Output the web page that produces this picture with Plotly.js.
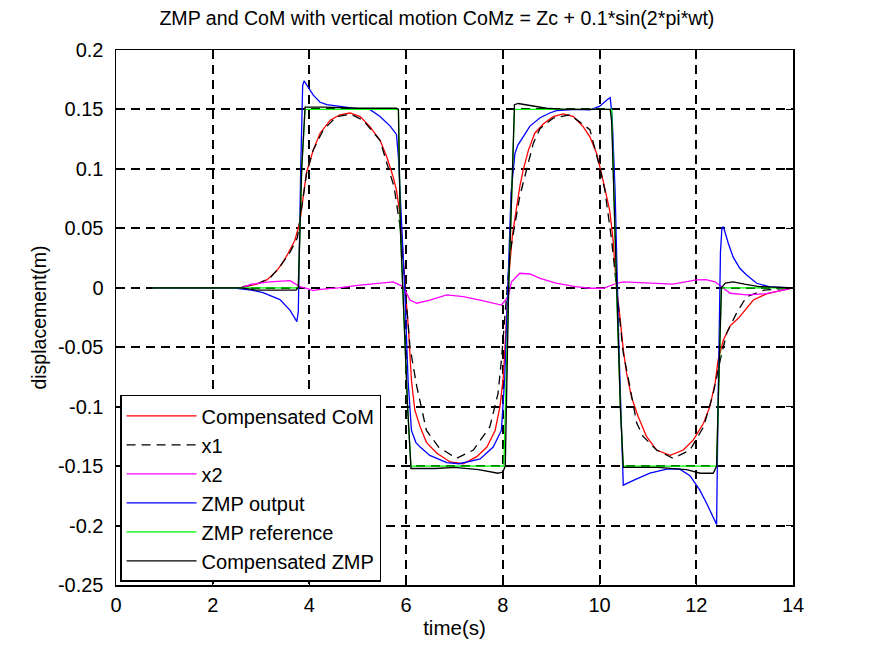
<!DOCTYPE html>
<html>
<head>
<meta charset="utf-8">
<script src="https://cdn.plot.ly/plotly-3.0.1.min.js"></script>
<style>html,body{margin:0;padding:0;background:#fff;}#chart{width:874px;height:655px;}</style>
</head>
<body>
<div id="chart"></div>
<script>
// Compensated CoM (red)
const comT = [0.76, 2.56, 2.91, 3.12, 3.32, 3.46, 3.56, 3.7, 3.8, 3.87, 3.94, 4.08, 4.22, 4.43, 4.63, 4.84, 5.05, 5.25, 5.46, 5.6, 5.73, 5.8, 5.88, 5.98, 6.05, 6.11, 6.18, 6.29, 6.42, 6.63, 6.91, 7.18, 7.46, 7.67, 7.84, 7.94, 8.01, 8.06, 8.11, 8.2, 8.28, 8.35, 8.42, 8.53, 8.66, 8.84, 9.04, 9.25, 9.46, 9.66, 9.8, 9.94, 10.04, 10.15, 10.21, 10.28, 10.35, 10.42, 10.49, 10.56, 10.66, 10.8, 10.97, 11.18, 11.46, 11.73, 11.94, 12.15, 12.28, 12.39, 12.45, 12.56, 12.7, 12.87, 13.18, 13.45, 13.8, 14];
const comY = [0, 0, 0.003, 0.0066, 0.014, 0.022, 0.029, 0.04, 0.055, 0.075, 0.097, 0.116, 0.130, 0.141, 0.1455, 0.147, 0.144, 0.1356, 0.124, 0.110, 0.0935, 0.082, 0.06, 0, -0.0355, -0.078, -0.103, -0.117, -0.13, -0.139, -0.1465, -0.148, -0.142, -0.134, -0.12, -0.1, -0.075, -0.038, 0.004, 0.045, 0.068, 0.085, 0.099, 0.116, 0.130, 0.138, 0.144, 0.1463, 0.144, 0.1356, 0.127, 0.113, 0.096, 0.077, 0.065, 0.04, 0, -0.024, -0.052, -0.072, -0.092, -0.1085, -0.125, -0.1365, -0.141, -0.1365, -0.128, -0.114, -0.1, -0.08, -0.061, -0.044, -0.032, -0.0257, -0.0103, -0.0052, -0.002, 0];

// x1 (black dashed)
const x1T = [0.76, 2.5, 2.9, 3.18, 3.39, 3.6, 3.75, 3.85, 3.94, 4.08, 4.29, 4.56, 4.85, 5.11, 5.46, 5.6, 5.75, 5.88, 5.98, 6.08, 6.22, 6.42, 6.67, 7.04, 7.39, 7.73, 7.9, 7.97, 8.05, 8.15, 8.35, 8.56, 8.63, 8.77, 9.04, 9.39, 9.8, 10.0, 10.11, 10.25, 10.35, 10.49, 10.6, 10.77, 10.9, 11.18, 11.52, 11.87, 12.15, 12.35, 12.5, 12.63, 12.83, 13.04, 13.4, 14];
const x1Y = [0, 0, 0.003, 0.008, 0.0178, 0.03, 0.042, 0.07, 0.096, 0.116, 0.133, 0.144, 0.146, 0.141, 0.124, 0.105, 0.085, 0.05, 0.0, -0.05, -0.083, -0.12, -0.134, -0.1435, -0.1365, -0.117, -0.089, -0.061, -0.02, 0.03, 0.077, 0.112, 0.1216, 0.134, 0.1427, 0.1455, 0.133, 0.102, 0.082, 0.04, 0, -0.055, -0.0776, -0.114, -0.125, -0.1365, -0.1435, -0.1365, -0.117, -0.089, -0.06, -0.038, -0.0215, -0.0075, -0.002, 0];

// x2 (magenta)
const x2T = [0.76, 2.6, 2.8, 3.18, 3.6, 3.8, 3.94, 4.08, 4.22, 4.6, 5.0, 5.46, 5.73, 5.94, 6.08, 6.22, 6.49, 6.84, 7.18, 7.53, 7.8, 7.97, 8.11, 8.18, 8.35, 8.56, 8.77, 9.1, 9.5, 9.8, 10.08, 10.35, 10.49, 11.18, 11.52, 12.0, 12.2, 12.39, 12.53, 12.7, 13.04, 13.45, 13.8, 14];
const x2Y = [0, 0, 0.003, 0.005, 0.006, 0.001, -0.0005, -0.0024, -0.0013, 0.0, 0.002, 0.0038, 0.005, 0.001, -0.0103, -0.013, -0.0103, -0.006, -0.0075, -0.0103, -0.013, -0.0145, -0.0075, 0.005, 0.0122, 0.0116, 0.008, 0.004, 0.001, -0.0004, -0.0004, 0.0038, 0.005, 0.0038, 0.003, 0.0066, 0.0068, 0.005, 0.0004, -0.0046, -0.006, -0.005, -0.002, 0];

// ZMP output (blue)
const zmpOutT = [0.76, 2.4, 2.8, 3.04, 3.39, 3.6, 3.74, 3.77, 3.82, 3.86, 3.89, 3.95, 4.01, 4.08, 4.22, 4.36, 4.63, 4.9, 5.25, 5.46, 5.67, 5.8, 5.84, 5.9, 5.97, 6.04, 6.11, 6.2, 6.29, 6.49, 6.84, 7.1, 7.53, 7.8, 7.97, 8.04, 8.1, 8.17, 8.25, 8.31, 8.42, 8.56, 8.77, 8.97, 9.11, 9.5, 9.8, 10.0, 10.15, 10.22, 10.26, 10.32, 10.4, 10.46, 10.49, 10.7, 11.04, 11.39, 11.66, 11.87, 12.07, 12.21, 12.35, 12.42, 12.45, 12.5, 12.53, 12.56, 12.66, 12.76, 12.9, 13.04, 13.25, 13.52, 14];
const zmpOutY = [0, 0, -0.002, -0.004, -0.010, -0.019, -0.0285, -0.02, 0.1, 0.17, 0.174, 0.17, 0.166, 0.162, 0.156, 0.154, 0.1525, 0.151, 0.150, 0.144, 0.136, 0.129, 0.11, 0.06, 0, -0.078, -0.12, -0.13, -0.134, -0.141, -0.147, -0.148, -0.144, -0.134, -0.12, -0.075, 0, 0.08, 0.113, 0.12, 0.127, 0.136, 0.143, 0.147, 0.149, 0.15, 0.1497, 0.1525, 0.158, 0.16, 0.144, 0.082, -0.05, -0.14, -0.166, -0.162, -0.156, -0.1525, -0.1525, -0.158, -0.17, -0.181, -0.193, -0.199, -0.1, 0.03, 0.05, 0.0514, 0.0377, 0.026, 0.0164, 0.0108, 0.0038, 0.0007, 0];

// ZMP reference (green)
const zmpRefT = [0.76, 3.77, 3.84, 3.91, 5.84, 5.88, 5.93, 6.03, 6.1, 8.02, 8.12, 8.2, 8.24, 10.25, 10.28, 10.35, 10.43, 10.49, 12.42, 12.47, 12.52, 14];
const zmpRefY = [0, 0, 0.1, 0.15, 0.15, 0.05, 0, -0.1, -0.15, -0.15, 0, 0.1, 0.15, 0.15, 0.1, 0, -0.1, -0.15, -0.15, -0.07, 0, 0];

// Compensated ZMP (black solid)
const compZmpT = [0.76, 2.6, 2.9, 3.5, 3.72, 3.77, 3.84, 3.91, 4.3, 5.0, 5.8, 5.84, 5.88, 5.93, 6.03, 6.1, 6.6, 7.0, 7.5, 7.9, 8.0, 8.05, 8.12, 8.2, 8.24, 8.32, 8.63, 8.9, 9.3, 10.22, 10.25, 10.28, 10.35, 10.43, 10.49, 11.2, 11.8, 12.08, 12.35, 12.42, 12.47, 12.52, 12.6, 12.76, 13.0, 13.3, 14];
const compZmpY = [0, 0, -0.002, -0.002, -0.002, 0, 0.1, 0.152, 0.152, 0.151, 0.151, 0.15, 0.05, 0, -0.1, -0.152, -0.152, -0.151, -0.153, -0.156, -0.155, -0.15, 0, 0.1, 0.154, 0.155, 0.153, 0.151, 0.15, 0.15, 0.14, 0.1, 0, -0.1, -0.151, -0.151, -0.153, -0.156, -0.156, -0.15, -0.07, 0, 0.004, 0.005, 0.003, 0.001, 0];

const yTickVals = [-0.25, -0.2, -0.15, -0.1, -0.05, 0, 0.05, 0.1, 0.15, 0.2];
const yTickText = ['-0.25', '-0.2', '-0.15', '-0.1', '-0.05', '0', '0.05', '0.1', '0.15', '0.2'];
const xTickVals = [0, 2, 4, 6, 8, 10, 12, 14];
const xTickText = ['0', '2', '4', '6', '8', '10', '12', '14'];

const LW = 1.3;
const traces = [
  {x: comT, y: comY, name: 'Compensated CoM', mode: 'lines', line: {color: '#ff0000', width: LW}},
  {x: x1T, y: x1Y, name: 'x1', mode: 'lines', line: {color: '#000000', width: LW, dash: '9px,6px'}},
  {x: x2T, y: x2Y, name: 'x2', mode: 'lines', line: {color: '#ff00ff', width: LW}},
  {x: zmpOutT, y: zmpOutY, name: 'ZMP output', mode: 'lines', line: {color: '#0000ff', width: LW}},
  {x: zmpRefT, y: zmpRefY, name: 'ZMP reference', mode: 'lines', line: {color: '#00ff00', width: LW}},
  {x: compZmpT, y: compZmpY, name: 'Compensated ZMP', mode: 'lines', line: {color: '#000000', width: LW}}
];

const FONT = 'Arial, "Liberation Sans", sans-serif';
const layout = {
  width: 874, height: 655,
  margin: {l: 116, r: 81, t: 50, b: 70, pad: 0},
  paper_bgcolor: '#ffffff', plot_bgcolor: '#ffffff',
  font: {family: FONT, size: 20, color: '#000000'},
  title: {text: 'ZMP and CoM with vertical motion CoMz = Zc + 0.1*sin(2*pi*wt)', font: {family: FONT, size: 19.6, color: '#000'}, x: 0.474, xref: 'paper', xanchor: 'center', y: 1 - 18/655, yref: 'container', yanchor: 'middle'},
  xaxis: {
    range: [0, 14], tickvals: xTickVals, ticktext: xTickText,
    showline: true, linecolor: '#000', linewidth: 1.5, mirror: 'ticks',
    ticks: 'inside', ticklen: 7, tickwidth: 1.5, tickcolor: '#000',
    showgrid: true, gridcolor: '#000', gridwidth: 2, griddash: '9px,6px',
    zeroline: false, tickfont: {size: 20}, ticklabelstandoff: 1,
    title: {text: 'time(s)', font: {size: 20.5}, standoff: 6}
  },
  yaxis: {
    range: [-0.25, 0.2], tickvals: yTickVals, ticktext: yTickText,
    showline: true, linecolor: '#000', linewidth: 1.5, mirror: 'ticks',
    ticks: 'inside', ticklen: 7, tickwidth: 1.5, tickcolor: '#000',
    showgrid: true, gridcolor: '#000', gridwidth: 2, griddash: '9px,6px',
    zeroline: false, tickfont: {size: 20}, ticklabelstandoff: 7,
    title: {text: 'displacement(m)', font: {size: 19.5}, standoff: 6}
  },
  legend: {
    x: 0.006, y: 0.006, xanchor: 'left', yanchor: 'bottom',
    bgcolor: '#ffffff', bordercolor: '#000', borderwidth: 1.5,
    font: {size: 20}, itemwidth: 70, tracegroupgap: 0
  },
  showlegend: true
};

Plotly.newPlot('chart', traces, layout, {displayModeBar: false, staticPlot: true});
</script>
</body>
</html>
